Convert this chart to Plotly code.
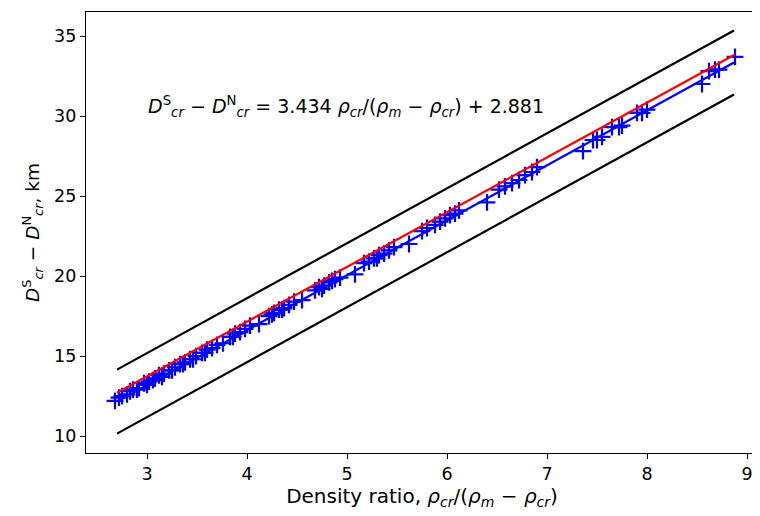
import plotly.graph_objects as go

# Data
x_obs = [2.68, 2.72, 2.75, 2.80, 2.83, 2.86, 2.90, 2.92, 2.97, 3.00, 3.02, 3.06, 3.08, 3.12, 3.15,
         3.17, 3.22, 3.25, 3.28, 3.33, 3.36, 3.38, 3.43, 3.46, 3.49, 3.55, 3.58, 3.60, 3.65, 3.70,
         3.76, 3.83, 3.86, 3.88, 3.93, 3.98, 4.03, 4.12, 4.22, 4.25, 4.27, 4.32, 4.35, 4.37, 4.42,
         4.47, 4.55, 4.68, 4.72, 4.75, 4.77, 4.82, 4.85, 4.88, 4.93, 5.08, 5.17, 5.22, 5.27, 5.30,
         5.32, 5.37, 5.42, 5.47, 5.62, 5.75, 5.80, 5.88, 5.93, 5.98, 6.03, 6.08, 6.12, 6.40, 6.52,
         6.58, 6.65, 6.72, 6.78, 6.85, 6.90, 7.36, 7.46, 7.50, 7.55, 7.65, 7.72, 7.75, 7.90, 7.95,
         8.00, 8.55, 8.62, 8.68, 8.72, 8.88]
y_obs = [12.2, 12.4, 12.5, 12.6, 12.8, 12.9, 12.9, 13.0, 13.3, 13.2, 13.4, 13.5, 13.6, 13.8, 13.7,
         13.9, 14.1, 14.1, 14.3, 14.5, 14.5, 14.6, 14.8, 14.8, 15.0, 15.2, 15.2, 15.4, 15.5, 15.7,
         15.8, 16.2, 16.2, 16.4, 16.5, 16.7, 16.9, 17.0, 17.5, 17.6, 17.7, 17.9, 17.9, 18.0, 18.2,
         18.4, 18.5, 19.1, 19.3, 19.2, 19.4, 19.6, 19.7, 19.8, 19.9, 20.1, 20.8, 20.9, 21.1, 21.1,
         21.3, 21.4, 21.6, 21.8, 22.0, 22.8, 23.0, 23.2, 23.4, 23.6, 23.8, 23.9, 24.1, 24.6, 25.4,
         25.6, 25.8, 26.0, 26.3, 26.5, 26.8, 27.8, 28.5, 28.5, 28.7, 29.3, 29.3, 29.4, 30.2, 30.2,
         30.4, 32.0, 32.8, 32.9, 32.9, 33.7]

fit_x = [2.70, 8.87]
fit_y = [12.15, 33.34]
upper_y = [14.15, 35.34]
lower_y = [10.15, 31.34]
red_x = [2.70, 8.87]
red_y = [12.70, 33.81]

FS_TICK = 17.5
FS_XTITLE = 20
FS_YTITLE = 18.5
FS_ANN = 19

fig = go.Figure()
fig.add_trace(go.Scatter(x=fit_x, y=upper_y, mode="lines", line=dict(color="black", width=2.2), showlegend=False))
fig.add_trace(go.Scatter(x=fit_x, y=lower_y, mode="lines", line=dict(color="black", width=2.2), showlegend=False))
fig.add_trace(go.Scatter(x=x_obs, y=y_obs, mode="markers",
                         marker=dict(symbol="cross-thin", size=12, line=dict(color="blue", width=2.2)),
                         showlegend=False))
fig.add_trace(go.Scatter(x=fit_x, y=fit_y, mode="lines", line=dict(color="blue", width=2.2), showlegend=False))
fig.add_trace(go.Scatter(x=red_x, y=red_y, mode="lines", line=dict(color="red", width=2.2), showlegend=False))

fig.add_annotation(x=2.99, y=29.6, xref="x", yref="y", xanchor="left", yanchor="bottom",
                   text="<i>D</i><sup>S</sup><sub><i>cr</i></sub> − <i>D</i><sup>N</sup><sub><i>cr</i></sub> = 3.434 <i>ρ<sub>cr</sub></i>/(<i>ρ<sub>m</sub></i> − <i>ρ<sub>cr</sub></i>) + 2.881",
                   showarrow=False, font=dict(size=FS_ANN, color="black"))

axis_common = dict(showgrid=False, zeroline=False, showline=True, linecolor="black", linewidth=1.3,
                   mirror=True, ticks="outside", ticklen=5, tickwidth=1.2, tickcolor="black",
                   tickfont=dict(size=FS_TICK, color="black"), automargin=False)
fig.update_xaxes(range=[2.39, 9.11], tickvals=[3, 4, 5, 6, 7, 8, 9],
                 title=dict(text="Density ratio, <i>ρ<sub>cr</sub></i>/(<i>ρ<sub>m</sub></i> − <i>ρ<sub>cr</sub></i>)",
                            font=dict(size=FS_XTITLE, color="black"), standoff=4),
                 **axis_common)
fig.update_yaxes(range=[8.94, 36.5], tickvals=[10, 15, 20, 25, 30, 35],
                 title=dict(text="<i>D</i><sup>S</sup><sub><i>cr</i></sub> − <i>D</i><sup>N</sup><sub><i>cr</i></sub>, km",
                            font=dict(size=FS_YTITLE, color="black"), standoff=9),
                 **axis_common)
# page body has an 8px default margin; figure sized/offset so the plot area lands where the reference has it
fig.update_layout(width=752, height=508, margin=dict(l=78, r=2, t=4, b=63),
                  plot_bgcolor="white", paper_bgcolor="white",
                  font=dict(family="DejaVu Sans", color="black"))
fig.write_html("out.html")
